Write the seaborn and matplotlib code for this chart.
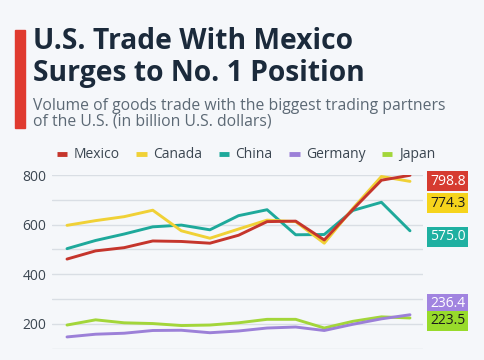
import matplotlib
matplotlib.use("Agg")
import matplotlib.pyplot as plt
from matplotlib.lines import Line2D
from matplotlib.patches import Rectangle
import seaborn as sns
import pandas as pd

years = list(range(2011, 2024))
countries = ["Mexico", "Canada", "China", "Germany", "Japan"]
mexico = [461, 494, 507, 534, 532, 525, 557, 612, 614, 538, 661, 779, 798.8]
canada = [597, 616, 632, 658, 575, 545, 582, 618, 612, 525, 665, 794, 774.3]
china = [503, 536, 562, 591, 598, 579, 636, 660, 559, 560, 657, 690, 575.0]
germany = [147, 158, 162, 173, 174, 164, 171, 183, 187, 173, 198, 220, 236.4]
japan = [195, 216, 204, 201, 193, 195, 204, 218, 218, 183, 210, 228, 223.5]
end_labels = ["798.8", "774.3", "575.0", "236.4", "223.5"]
y_ticks = [200, 400, 600, 800]

line_colors = {"Mexico": "#c5352c", "Canada": "#f0d136", "China": "#1ea99b",
               "Germany": "#9c80d8", "Japan": "#a3d63a"}
box_colors = {"Mexico": "#d63b30", "Canada": "#f6d41c", "China": "#1fb0a1",
              "Germany": "#a184e0", "Japan": "#98db2b"}
box_text = {"Mexico": "white", "Canada": "#1b1b1b", "China": "white",
            "Germany": "white", "Japan": "#1b1b1b"}
label_offsets = {"Mexico": -6, "Canada": -22, "China": -6, "Germany": 11, "Japan": -3}

series = {"Mexico": mexico, "Canada": canada, "China": china,
          "Germany": germany, "Japan": japan}
df = pd.DataFrame([(c, y, v) for c in countries for y, v in zip(years, series[c])],
                  columns=["country", "year", "value"])

bg = "#f5f7fa"
sns.set_theme(style="white")
plt.rcParams["font.family"] = ["Open Sans", "DejaVu Sans"]

fig = plt.figure(figsize=(4.85, 3.6), dpi=100, facecolor=bg)
W, H = 485, 360
ax = fig.add_axes([52 / W, 11.4 / H, (423 - 52) / W, (360 - 175 - 11.4) / H])
ax.set_facecolor(bg)

draw_order = ["Japan", "Germany", "China", "Canada", "Mexico"]
sns.lineplot(data=df, x="year", y="value", hue="country", hue_order=draw_order,
             palette=line_colors, linewidth=2.1, ax=ax, legend=False)

ax.set_xlim(years[0] - 0.525, years[-1] + 0.455)
ax.set_ylim(100, 800)
ax.set_yticks(y_ticks)
ax.set_yticks([100, 300, 500, 700], minor=True)
ax.grid(which="both", axis="y", color="#d9dee4", linewidth=1.0)
ax.set_axisbelow(True)
ax.set_xticks([])
ax.set_xlabel("")
ax.set_ylabel("")
for s in ax.spines.values():
    s.set_visible(False)
ax.tick_params(axis="y", which="both", length=0, pad=4, labelsize=10, labelcolor="#3b4651")

# end labels
for c, lab in zip(countries, end_labels):
    ax.annotate(lab, xy=(1.0, series[c][-1]), xycoords=("axes fraction", "data"),
                xytext=(5, label_offsets[c] * 0.72), textcoords="offset points",
                ha="left", va="center", fontsize=10, color=box_text[c],
                bbox=dict(boxstyle="square,pad=0.18", fc=box_colors[c], ec="none"),
                annotation_clip=False)

# legend
handles = [Line2D([0], [0], color=line_colors[c], lw=3.5, solid_capstyle="butt") for c in countries]
fig.legend(handles, countries, loc="center left", bbox_to_anchor=(57 / W, 1 - 155 / H),
           ncol=5, frameon=False, handlelength=0.75, handletextpad=0.45, columnspacing=1.2,
           fontsize=10, labelcolor="#3b4651", borderaxespad=0, borderpad=0)

# title block
fig.patches.append(Rectangle((15 / W, 1 - 128 / H), 10 / W, 98 / H, transform=fig.transFigure,
                             color="#e03a2f", figure=fig))
fig.text(33 / W, 1 - 49 / H, "U.S. Trade With Mexico", fontsize=20.3, fontweight="bold",
         color="#1b2a3b", va="baseline", ha="left")
fig.text(33 / W, 1 - 81 / H, "Surges to No. 1 Position", fontsize=20.3, fontweight="bold",
         color="#1b2a3b", va="baseline", ha="left")
fig.text(33 / W, 1 - 110 / H, "Volume of goods trade with the biggest trading partners",
         fontsize=11.35, color="#5c6975", va="baseline", ha="left")
fig.text(33 / W, 1 - 126 / H, "of the U.S. (in billion U.S. dollars)",
         fontsize=11.35, color="#5c6975", va="baseline", ha="left")

fig.savefig("out.png", dpi=100, facecolor=bg)
